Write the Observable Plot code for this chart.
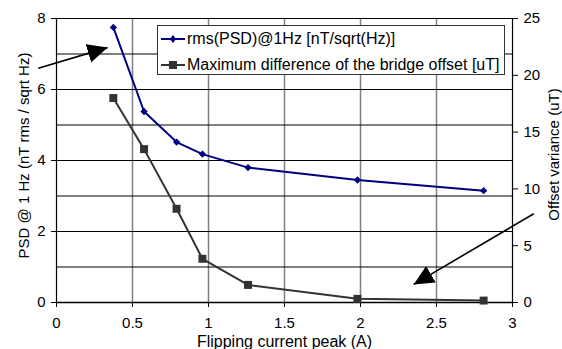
<!DOCTYPE html>
<html><head><meta charset="utf-8">
<script src="https://cdn.jsdelivr.net/npm/d3@7"></script>
<script src="https://cdn.jsdelivr.net/npm/@observablehq/plot@0.6"></script>
<style>
body{margin:0;background:#fff;font-family:"Liberation Sans",Arial,sans-serif;}
#wrap{position:relative;width:562px;height:349px;overflow:hidden;}
#legend{position:absolute;left:157px;top:25px;width:346px;height:48px;border:1px solid #333;background:#fff;font-size:16px;color:#000;}
.row{position:absolute;left:3px;height:20px;line-height:20px;display:flex;align-items:center;white-space:nowrap;}
.row svg{margin-right:2px;}
</style></head><body>
<div id="wrap"><div id="chart"></div><div id="legend"></div></div>
<script>
// ---- data ----
const current = [0.374, 0.576, 0.79, 0.96, 1.26, 1.98, 2.81];
const psd = [7.75, 5.38, 4.52, 4.18, 3.8, 3.45, 3.15];
const offsetDiff = [18.0, 13.5, 8.25, 3.85, 1.55, 0.32, 0.17];
const xTicks = [0, 0.5, 1, 1.5, 2, 2.5, 3];
const leftTicks = [0, 2, 4, 6, 8];
const leftGrid = [0, 1, 2, 3, 4, 5, 6, 7, 8];
const rightTicks = [0, 5, 10, 15, 20, 25];
const seriesNames = ["rms(PSD)@1Hz [nT/sqrt(Hz)]", "Maximum difference of the bridge offset [uT]"];
const seriesColors = ["#000080", "#333333"];
const xLabel = "Flipping current peak (A)";
const yLabel = "PSD @ 1 Hz (nT rms / sqrt Hz)";
const y2Label = "Offset variance (uT)";
// annotation arrows (data units of x and left y axis)
const arrowX1 = [-0.12, 3.14];
const arrowY1 = [6.6, 2.5];
const arrowX2 = [0.336, 2.35];
const arrowY2 = [7.18, 0.51];

const k = leftTicks[leftTicks.length - 1] / rightTicks[rightTicks.length - 1];
const rows = current.map((x, i) => ({x, psd: psd[i], off: offsetDiff[i] * k}));
const arrows = arrowX1.map((_, i) => i);

function bigHead(color) {
  const m = d3.create("svg:marker")
    .attr("viewBox", "0 -10 20 20")
    .attr("markerUnits", "userSpaceOnUse")
    .attr("markerWidth", 20).attr("markerHeight", 20)
    .attr("refX", 20).attr("refY", 0)
    .attr("orient", "auto");
  m.append("path").attr("d", "M0,-9.5L20,0L0,9.5Z").attr("fill", color).attr("stroke", "none");
  return m.node();
}

const chart = Plot.plot({
  width: 562, height: 349,
  marginLeft: 56, marginRight: 50, marginTop: 18, marginBottom: 47,
  style: {fontFamily: "'Liberation Sans', Arial, sans-serif", fontSize: "15px", color: "#000", background: "#fff", overflow: "visible"},
  x: {domain: [0, 3]},
  y: {domain: [0, 8]},
  marks: [
    Plot.ruleX(xTicks.slice(1, -1), {stroke: "#808080", strokeWidth: 1.5}),
    Plot.ruleY(leftGrid, {stroke: "#000", strokeWidth: 1}),
    Plot.ruleX([xTicks[0], xTicks[xTicks.length - 1]], {stroke: "#000", strokeWidth: 1.2}),
    Plot.ruleY([0], {stroke: "#000", strokeWidth: 1.5}),
    Plot.axisX(xTicks, {tickSize: 5, tickPadding: 10, label: null, tickFormat: d => String(d)}),
    Plot.axisY(leftTicks, {anchor: "left", tickSize: 5, tickPadding: 6, label: null, tickFormat: d => String(d)}),
    Plot.axisY(rightTicks.map(v => v * k), {anchor: "right", tickSize: 5, tickPadding: 6, label: null, tickFormat: d => String(Math.round(d / k))}),
    Plot.line(rows, {x: "x", y: "off", stroke: seriesColors[1], strokeWidth: 2}),
    Plot.dot(rows, {x: "x", y: "off", symbol: "square", fill: seriesColors[1], r: 4.5}),
    Plot.line(rows, {x: "x", y: "psd", stroke: seriesColors[0], strokeWidth: 2}),
    Plot.dot(rows, {x: "x", y: "psd", symbol: "diamond2", fill: seriesColors[0], r: 3.3}),
    Plot.link(arrows, {x1: i => arrowX1[i], y1: i => arrowY1[i], x2: i => arrowX2[i], y2: i => arrowY2[i], stroke: "#000", strokeWidth: 1.6, markerEnd: bigHead}),
    Plot.text([xLabel], {frameAnchor: "bottom", dy: 44, fontSize: 16, textAnchor: "middle"}),
    Plot.text([yLabel], {frameAnchor: "left", rotate: -90, dx: -32, dy: -5, fontSize: 15, textAnchor: "middle"}),
    Plot.text([y2Label], {frameAnchor: "right", rotate: -90, dx: 42, dy: -6, fontSize: 15, textAnchor: "middle"})
  ]
});
document.getElementById("chart").appendChild(chart);

// legend
const legend = document.getElementById("legend");
const symbols = ["diamond", "square"];
seriesNames.forEach((name, i) => {
  const row = document.createElement("div");
  row.className = "row";
  row.style.top = (i === 0 ? 3 : 29) + "px";
  const c = seriesColors[i];
  const mk = symbols[i] === "diamond"
    ? `<path d="M12,2L15,6L12,10L9,6Z" fill="${c}"/>`
    : `<rect x="8" y="2" width="8" height="8" fill="${c}"/>`;
  row.innerHTML = `<svg width="24" height="12"><line x1="0" y1="6" x2="24" y2="6" stroke="${c}" stroke-width="2"/>${mk}</svg><span>${name}</span>`;
  legend.appendChild(row);
});
</script>
</body></html>
